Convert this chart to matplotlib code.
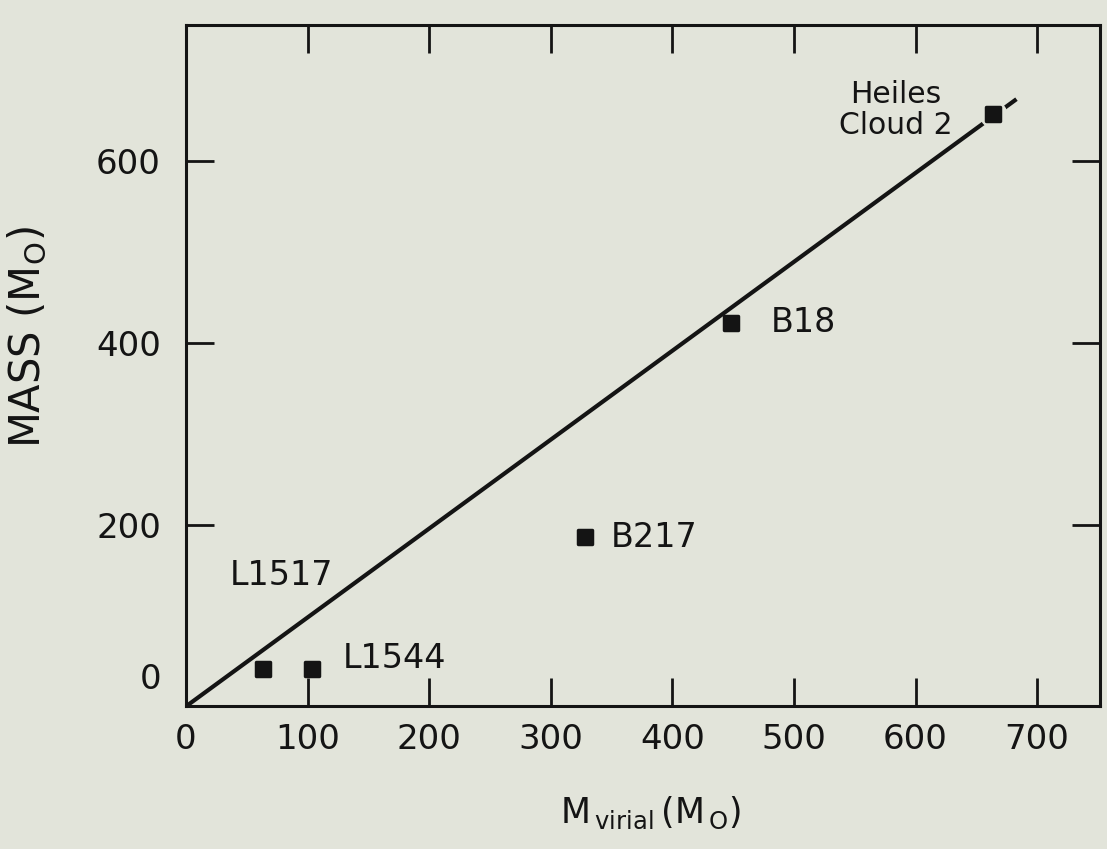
import matplotlib
matplotlib.use("Agg")
import matplotlib.pyplot as plt
import matplotlib.transforms as mtransforms
from matplotlib.markers import MarkerStyle

# ---- data ----
clouds = ["L1517", "L1544", "B217", "B18", "Heiles\nCloud 2"]
m_virial = [63, 104, 328, 448, 664]
mass = [41, 41, 186, 422, 652]

fit_x = [0, 683]
fit_y = [0, 668]

xticks = [0, 100, 200, 300, 400, 500, 600, 700]
yticks = [0, 200, 400, 600]

# label anchor positions (data coords) for the annotations
label_x = [36, 129, 349, 481, 584]
label_y = [144, 53, 186, 422, 656]
label_ha = ["left", "left", "left", "left", "center"]
label_size = [24, 24, 24, 24, 21.5]

BG = "#e2e4da"
INK = "#141414"

fig = plt.figure(figsize=(11.07, 8.49), dpi=100, facecolor=BG)
ax = fig.add_axes([0.168, 0.168, 0.826, 0.803], facecolor=BG)

ax.set_xlim(0, 752)
ax.set_ylim(0, 750)

# fitted line
ax.plot(fit_x, fit_y, color=INK, lw=3.0, solid_capstyle="butt", zorder=2)

# clear a small gap in the line around the Heiles Cloud 2 point
ax.plot(m_virial[-1:], mass[-1:], marker="o", ms=19, mfc=BG, mec=BG,
        ls="none", zorder=3)

sq = MarkerStyle("s", joinstyle="round")
ax.plot(m_virial, mass, marker=sq, ms=10, mfc=INK, mec=INK, mew=2.5,
        ls="none", zorder=4)

for name, lx, ly, ha, fs in zip(clouds, label_x, label_y, label_ha, label_size):
    ax.text(lx, ly, name, ha=ha, va="center", fontsize=fs, color=INK,
            linespacing=1.05, zorder=5)

ax.set_xticks(xticks)
ax.set_yticks(yticks)
ax.set_xticklabels([str(v) for v in xticks])
ax.set_yticklabels([str(v) for v in yticks])
ax.tick_params(axis="both", direction="in", length=20, width=2.0,
               color=INK, labelcolor=INK, labelsize=24.5,
               top=True, right=True)
ax.tick_params(axis="x", pad=12)
ax.tick_params(axis="y", pad=18)

# lift the y-axis "0" label above the corner, as in the original
ylab0 = ax.get_yticklabels()[0]
ylab0.set_transform(ylab0.get_transform() +
                    mtransforms.ScaledTranslation(0, 30 / 100, fig.dpi_scale_trans))

for s in ax.spines.values():
    s.set_linewidth(2.2)
    s.set_color(INK)

fig.text(0.588, 0.043, r"M$_{\,\rm virial}\,$(M$_{\,\rm O}$)", ha="center",
         va="center", fontsize=25, color=INK)
fig.text(0.025, 0.603, r"MASS (M$_{\rm O}$)", ha="center", va="center",
         rotation=90, fontsize=30, color=INK)

fig.savefig("out.png", dpi=100, facecolor=BG)
